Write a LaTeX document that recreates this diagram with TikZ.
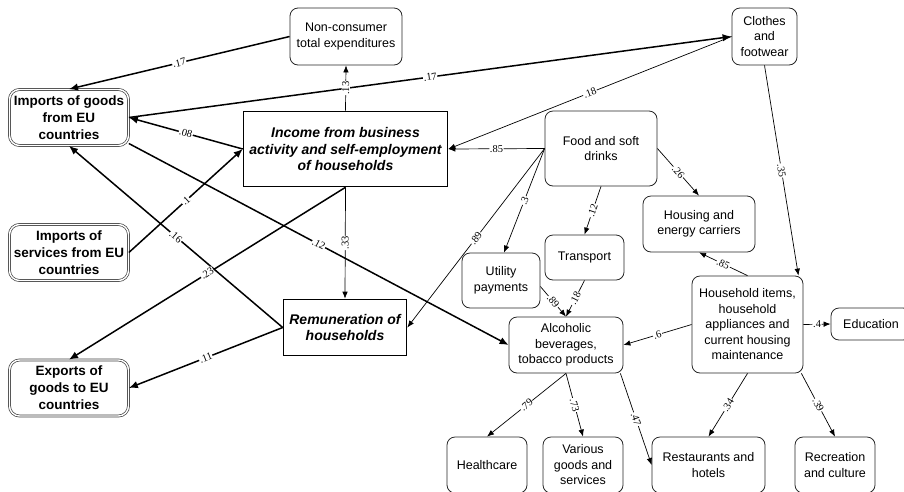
\documentclass[tikz,border=0pt]{standalone}
\usepackage{fontspec}
\setmainfont{Liberation Sans}
\newfontfamily\numfont{Liberation Serif}
\usetikzlibrary{arrows.meta,calc}

\begin{document}
\begin{tikzpicture}[
  x=1pt,y=-1pt,
  font=\fontsize{12.5}{15.5}\selectfont,
  box/.style={rounded corners=8pt,draw=black!85,line width=0.8pt,fill=white,align=center,inner sep=2pt},
  dbl/.style={box,double=white,double distance=1.4pt,line width=0.7pt,draw=black!75,rounded corners=10pt,
    font=\fontsize{13.5}{17}\selectfont\bfseries,minimum width=119pt,minimum height=56pt},
  key/.style={draw=black,line width=1.6pt,fill=white,align=center,inner sep=2pt,
    font=\fontsize{14}{16.5}\selectfont\bfseries\itshape},
  flow/.style={-{Latex[length=7pt,width=5.5pt]},line width=0.7pt,black},
  tflow/.style={-{Latex[length=9pt,width=7.5pt]},line width=1.5pt,black},
  lbl/.style={font=\numfont\fontsize{10.5}{10.5}\selectfont,fill=white,inner sep=0.6pt,sloped,midway},
]
\useasboundingbox (0,0) rectangle (904,491);

% ---------- LEFT: TRADE ----------
\node[dbl] (impgoods) at (69,117.5) {Imports of goods\\from EU\\countries};
\node[dbl] (impserv) at (69,252.5) {Imports of\\services from EU\\countries};
\node[dbl] (expgoods) at (69,388) {Exports of\\goods to EU\\countries};

% ---------- INCOME ----------
\node[key,minimum width=204pt,minimum height=75pt] (income) at (345.5,149)
  {Income from business\\activity and self-employment\\of households};
\node[key,minimum width=123pt,minimum height=56pt] (remun) at (345,327.5) {Remuneration of\\households};
\node[box,minimum width=112pt,minimum height=57pt] (noncons) at (346,36.5) {Non-consumer\\total expenditures};

% ---------- EXPENDITURES ----------
\node[box,minimum width=65pt,minimum height=57pt] (clothes) at (764.5,36.5) {Clothes\\and\\footwear};
\node[box,minimum width=112pt,minimum height=75pt] (food) at (601,148.5) {Food and soft\\drinks};
\node[box,minimum width=112pt,minimum height=56pt] (housing) at (699,224) {Housing and\\energy carriers};
\node[box,minimum width=79pt,minimum height=45pt] (transport) at (584.5,257.5) {Transport};
\node[box,minimum width=78pt,minimum height=55pt] (utility) at (501,280.5) {Utility\\payments};
\node[box,minimum width=111pt,minimum height=97pt] (household) at (747.5,324.5)
  {Household items,\\household\\appliances and\\current housing\\maintenance};
\node[box,minimum width=80pt,minimum height=32pt] (educ) at (871,324) {Education};
\node[box,minimum width=114pt,minimum height=56pt] (alcohol) at (566,345)
  {Alcoholic\\beverages,\\tobacco products};

% ---------- BOTTOM ROW ----------
\node[box,minimum width=80pt,minimum height=56pt] (health) at (487,465) {Healthcare};
\node[box,minimum width=80pt,minimum height=56pt] (various) at (583,465) {Various\\goods and\\services};
\node[box,minimum width=113pt,minimum height=56pt] (restaur) at (708.5,465) {Restaurants and\\hotels};
\node[box,minimum width=80pt,minimum height=56pt] (recreat) at (835,465) {Recreation\\and culture};

% ---------- THICK PATHS ----------
\draw[tflow] (noncons.west) -- (impgoods.north) node[lbl]{.17};
\draw[tflow] (impgoods.east) -- (clothes.west) node[lbl]{.17};
\draw[tflow] (income.west) -- (impgoods.east) node[lbl]{.08};
\draw[tflow] (impserv.east) -- (income.west) node[lbl]{.1};
\draw[tflow] (remun.west) -- (impgoods.south) node[lbl]{.16};
\draw[tflow] (income.south) -- (expgoods.north) node[lbl]{.23};
\draw[tflow] ([yshift=-26pt]impgoods.east) -- (alcohol.west) node[lbl]{.12};
\draw[tflow] (remun.west) -- (expgoods.east) node[lbl]{.11};

% ---------- THIN PATHS ----------
\draw[flow] (income.north) -- (noncons.south) node[lbl]{.13};
\draw[flow] (income.south) -- (remun.north) node[lbl]{.33};
\draw[flow] (food.west) -- (income.east) node[lbl]{.85};
\draw[flow] (clothes.west) -- (income.east) node[lbl]{.18};
\draw[flow] (food.west) -- (remun.east) node[lbl]{.89};
\draw[flow] (food.west) -- ([xshift=3pt]utility.north) node[lbl]{.3};
\draw[flow] (food.south) -- (transport.north) node[lbl]{.12};
\draw[flow] (food.east) -- (housing.north) node[lbl]{.26};
\draw[flow] (clothes.south) -- ([xshift=-5pt]household.north east) node[lbl]{.35};
\draw[flow] ([yshift=-6pt]utility.east) -- (alcohol.north) node[lbl]{.89};
\draw[flow] (transport.south) -- (alcohol.north) node[lbl]{.18};
\draw[flow] (household.north) -- (housing.south) node[lbl]{.85};
\draw[flow] (household.west) -- (alcohol.east) node[lbl]{.6};
\draw[flow] (household.east) -- (educ.west) node[lbl]{.4};
\draw[flow] (alcohol.south) -- (health.north) node[lbl]{.79};
\draw[flow] (alcohol.south) -- (various.north) node[lbl]{.73};
\draw[flow] ([xshift=-3pt]alcohol.south east) -- (restaur.west) node[lbl]{.47};
\draw[flow] (household.south) -- (restaur.north) node[lbl]{.34};
\draw[flow] ([xshift=-2pt]household.south east) -- (recreat.north) node[lbl]{.39};

\end{tikzpicture}
\end{document}
